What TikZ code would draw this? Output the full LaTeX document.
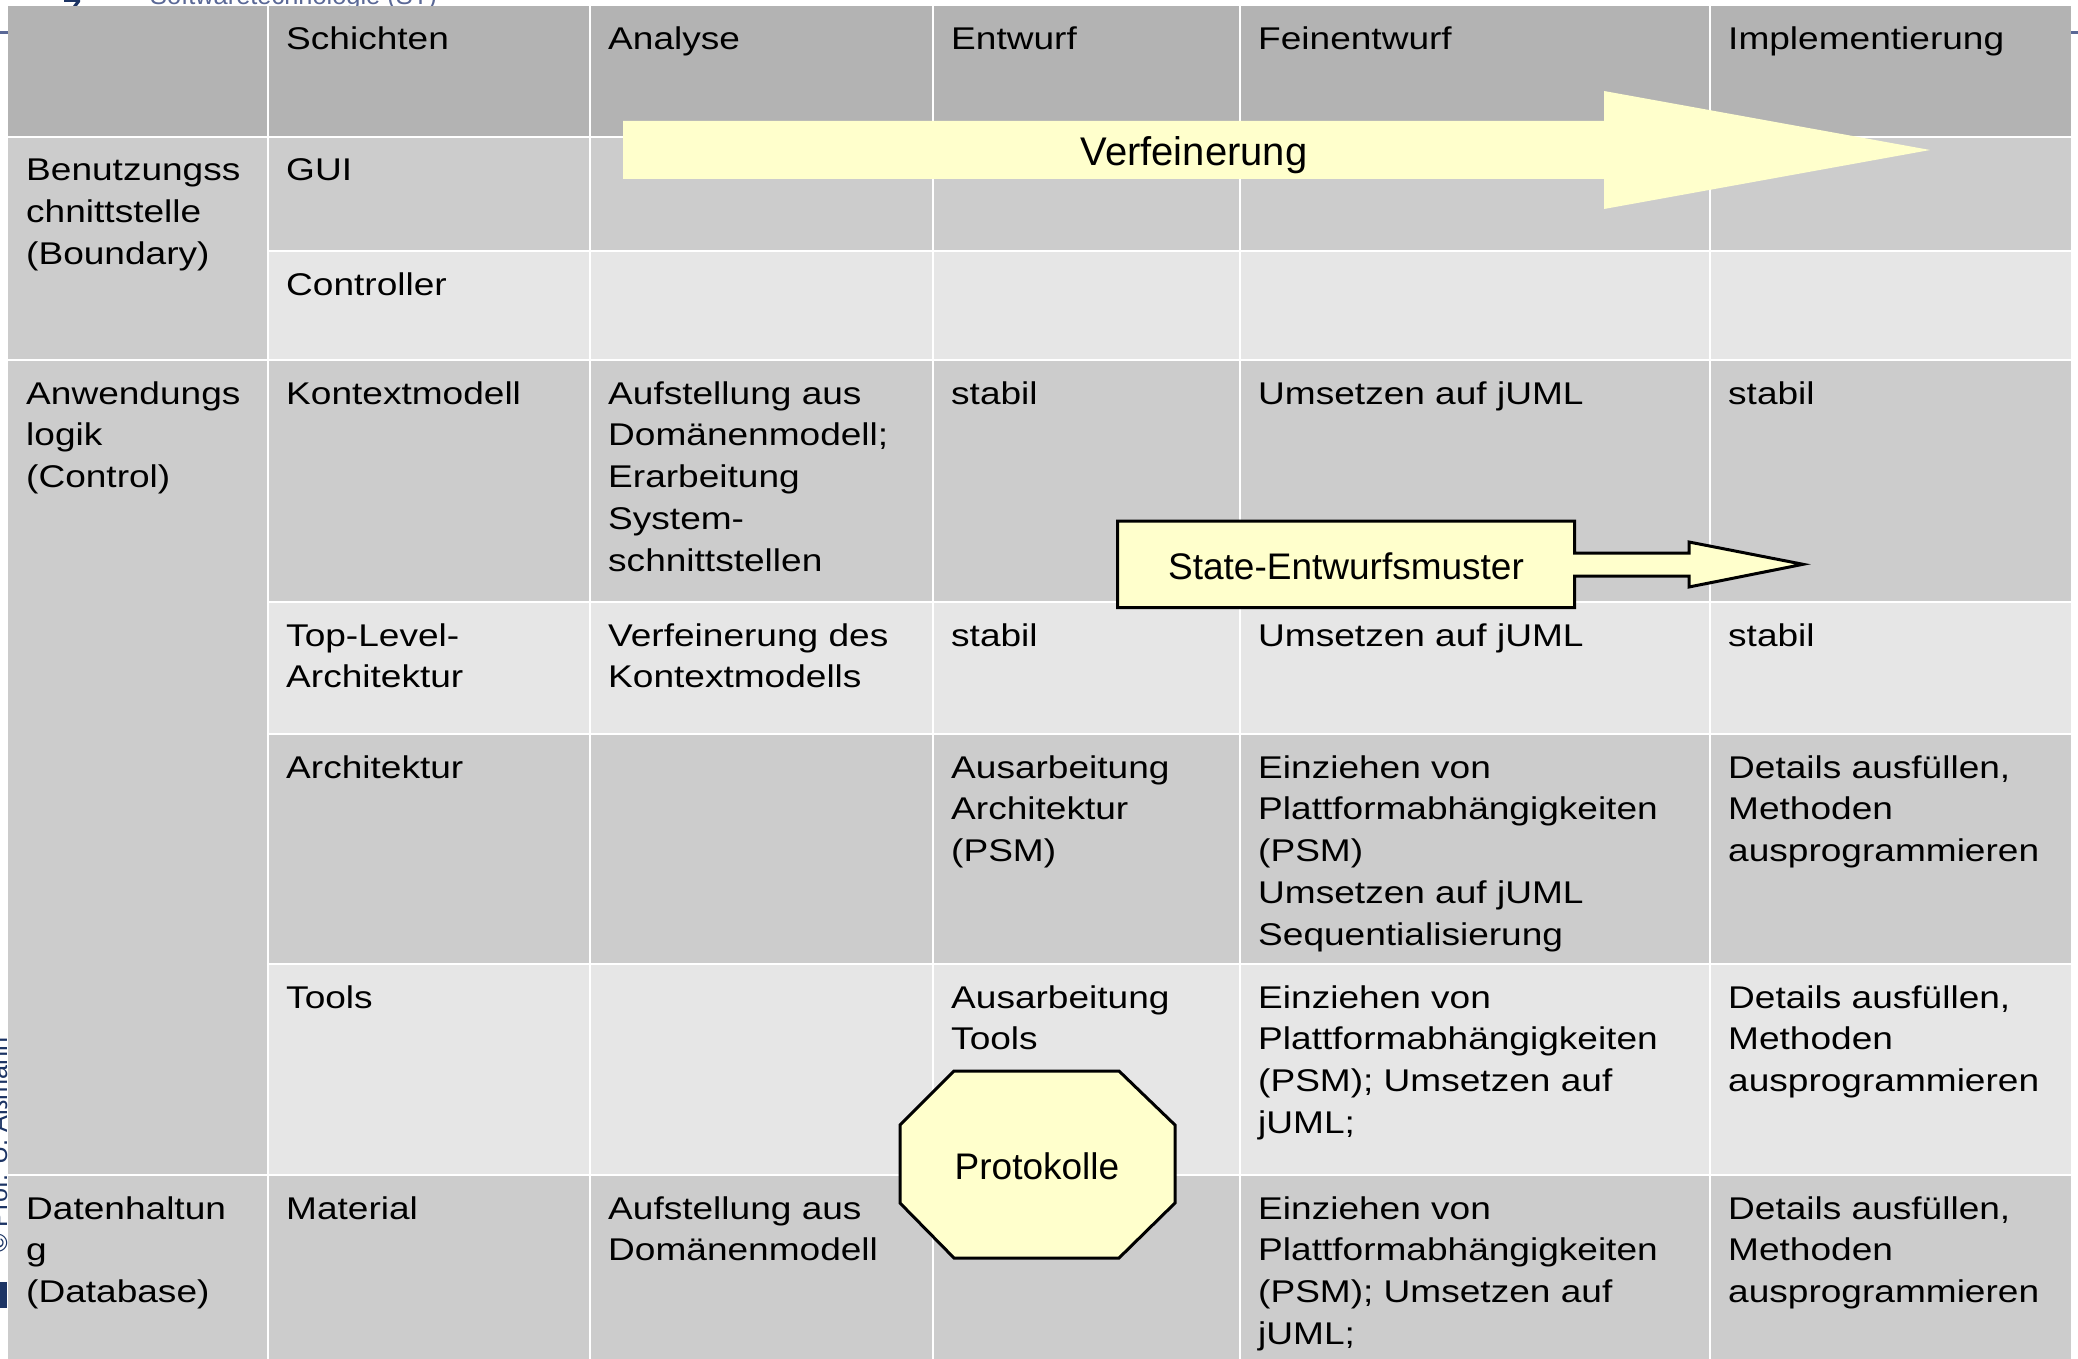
\documentclass[tikz,border=0pt]{standalone}
\usepackage{fontspec}
\setmainfont{Liberation Sans}
\newfontfamily\tabfont{Liberation Sans}[FakeStretch=1.18]
\definecolor{hdr}{RGB}{179,179,179}
\definecolor{dk}{RGB}{204,204,204}
\definecolor{lt}{RGB}{230,230,230}
\definecolor{yel}{RGB}{255,255,204}
\definecolor{slate}{RGB}{90,104,150}
\definecolor{navy}{RGB}{28,52,100}
\newcommand\cellLines[1]{\begin{tabular}[t]{@{}l@{}}#1\end{tabular}}
\begin{document}
\begin{tikzpicture}[x=1pt,y=-1pt,
  celltxt/.style={anchor=base west, inner sep=0pt, font=\tabfont\fontsize{31.4}{41.8}\selectfont},
  bigtxt/.style={anchor=base, inner sep=0pt, font=\fontsize{#1}{#1}\selectfont},
  grid/.style={draw=white, line width=2pt},
  callout/.style={fill=yel, draw=black, line width=3pt, line join=miter}]
\useasboundingbox (0,0) rectangle (2078,1359);
\clip (0,0) rectangle (2078,1359);
\fill[white] (0,0) rectangle (2078,1359);
% slide template remnants
\draw[slate, line width=3pt] (0,33) -- (2078,33);
\node[anchor=base west, inner sep=0pt, text=slate, font=\fontsize{25.4}{30}\selectfont] (sthead) at (150,5) {Softwaretechnologie (ST)};
\fill[navy] (64,0) -- (80,0) -- (80,2) -- (77,6) -- (73,6) -- (76,2) -- (64,2) -- cycle;
\node[anchor=base west, inner sep=0pt, rotate=90, text=navy, font=\fontsize{25.2}{30}\selectfont] (copy) at (7,1253) {© Prof. U. Aßmann};
\fill[navy] (0,1282) rectangle (7,1308);
% table cells
\fill[hdr] (8,6) rectangle (2071,137);
\fill[dk] (8,137) rectangle (268,1359);
\fill[dk] (268,137) rectangle (2071,251);
\fill[lt] (268,251) rectangle (2071,360);
\fill[dk] (268,360) rectangle (2071,602);
\fill[lt] (268,602) rectangle (2071,734);
\fill[dk] (268,734) rectangle (2071,964);
\fill[lt] (268,964) rectangle (2071,1175);
\fill[dk] (268,1175) rectangle (2071,1359);
% grid lines
\foreach \gx in {268,590,933,1240,1710} {\draw[grid] (\gx,6) -- (\gx,1359);}
\foreach \gy in {137,360,1175} {\draw[grid] (8,\gy) -- (2071,\gy);}
\foreach \gy in {251,602,734,964} {\draw[grid] (268,\gy) -- (2071,\gy);}
% header
\node[celltxt] (hSch) at (286,50) {Schichten};
\node[celltxt] (hAna) at (608,50) {Analyse};
\node[celltxt] (hEnt) at (951,50) {Entwurf};
\node[celltxt] (hFei) at (1258,50) {Feinentwurf};
\node[celltxt] (hImp) at (1728,50) {Implementierung};
% layer column
\node[celltxt] (lBen) at (26,181) {\cellLines{Benutzungss\\chnittstelle\\(Boundary)}};
\node[celltxt] (lAnw) at (26,404) {\cellLines{Anwendungs\\logik\\(Control)}};
\node[celltxt] (lDat) at (26,1219) {\cellLines{Datenhaltun\\g\\(Database)}};
% GUI / Controller
\node[celltxt] (sGui) at (286,181) {GUI};
\node[celltxt] (sCtl) at (286,295) {Controller};
% Kontextmodell
\node[celltxt] (sKon) at (286,404) {Kontextmodell};
\node[celltxt] (aKon) at (608,404) {\cellLines{Aufstellung aus\\Domänenmodell;\\Erarbeitung\\System-\\schnittstellen}};
\node[celltxt] (eKon) at (951,404) {stabil};
\node[celltxt] (fKon) at (1258,404) {Umsetzen auf jUML};
\node[celltxt] (iKon) at (1728,404) {stabil};
% Top-Level-Architektur
\node[celltxt] (sTop) at (286,646) {\cellLines{Top-Level-\\Architektur}};
\node[celltxt] (aTop) at (608,646) {\cellLines{Verfeinerung des\\Kontextmodells}};
\node[celltxt] (eTop) at (951,646) {stabil};
\node[celltxt] (fTop) at (1258,646) {Umsetzen auf jUML};
\node[celltxt] (iTop) at (1728,646) {stabil};
% Architektur
\node[celltxt] (sArc) at (286,778) {Architektur};
\node[celltxt] (eArc) at (951,778) {\cellLines{Ausarbeitung\\Architektur\\(PSM)}};
\node[celltxt] (fArc) at (1258,778) {\cellLines{Einziehen von\\Plattformabhängigkeiten\\(PSM)\\Umsetzen auf jUML\\Sequentialisierung}};
\node[celltxt] (iArc) at (1728,778) {\cellLines{Details ausfüllen,\\Methoden\\ausprogrammieren}};
% Tools
\node[celltxt] (sToo) at (286,1008) {Tools};
\node[celltxt] (eToo) at (951,1008) {\cellLines{Ausarbeitung\\Tools}};
\node[celltxt] (fToo) at (1258,1008) {\cellLines{Einziehen von\\Plattformabhängigkeiten\\(PSM); Umsetzen auf\\jUML;}};
\node[celltxt] (iToo) at (1728,1008) {\cellLines{Details ausfüllen,\\Methoden\\ausprogrammieren}};
% Material
\node[celltxt] (sMat) at (286,1219) {Material};
\node[celltxt] (aMat) at (608,1219) {\cellLines{Aufstellung aus\\Domänenmodell}};
\node[celltxt] (fMat) at (1258,1219) {\cellLines{Einziehen von\\Plattformabhängigkeiten\\(PSM); Umsetzen auf\\jUML;}};
\node[celltxt] (iMat) at (1728,1219) {\cellLines{Details ausfüllen,\\Methoden\\ausprogrammieren}};
% Verfeinerung arrow
\fill[yel] (623,121) -- (1604,121) -- (1604,91) -- (1930,150) -- (1604,209) -- (1604,179) -- (623,179) -- cycle;
\node[bigtxt=40] (verf) at (1194,166) {Verfeinerung};
% State-Entwurfsmuster callout
\draw[callout] (1117.5,521) -- (1574.6,521) -- (1574.6,553) -- (1689,553) -- (1689,542) -- (1803,564.3) -- (1689,587) -- (1689,576) -- (1574.6,576) -- (1574.6,607.7) -- (1117.5,607.7) -- cycle;
\node[bigtxt=37] (state) at (1346,579.3) {State-Entwurfsmuster};
% Protokolle octagon
\draw[callout] (954,1071) -- (1119,1071) -- (1175,1125) -- (1175,1203) -- (1119,1258) -- (954,1258) -- (900,1203) -- (900,1125) -- cycle;
\node[bigtxt=37] (proto) at (1037,1179) {Protokolle};
\end{tikzpicture}
\end{document}
